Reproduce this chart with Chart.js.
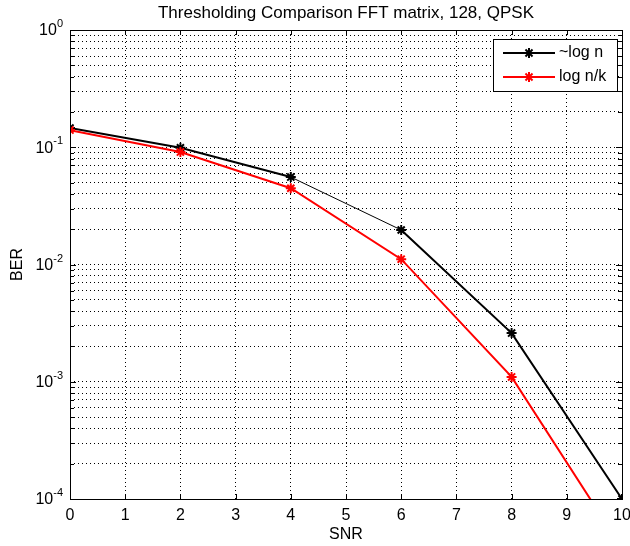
<!DOCTYPE html>
<html lang="en">
<head>
  <meta charset="UTF-8">
  <title>Thresholding Comparison FFT matrix, 128, QPSK</title>
  <style>
    html, body { margin: 0; padding: 0; background: #fff; }
    #wrap { width: 630px; height: 546px; }
  </style>
</head>
<body>
  <div id="wrap"><canvas id="berChart" width="630" height="546"></canvas></div>

  <script src="https://cdn.jsdelivr.net/npm/chart.js"></script>
  <script>
    // values
    const snr = [0, 2, 4, 6, 8, 10];
    const berLogN = [0.146, 0.099, 0.0557, 0.0197, 0.0026, 0.0001];
    const berLogNK = [0.140, 0.091, 0.0447, 0.0111, 0.0011, 0.000038];
    const seriesNames = ['~log n', 'log n/k'];

    // axes
    const xTicks = [0, 1, 2, 3, 4, 5, 6, 7, 8, 9, 10];
    const yDecades = [1e-4, 1e-3, 1e-2, 1e-1, 1];
    const yExponents = ['-4', '-3', '-2', '-1', '0'];

    const titleText = 'Thresholding Comparison FFT matrix, 128, QPSK';
    const xLabel = 'SNR';
    const yLabel = 'BER';

    const FONT = '"Liberation Sans Narrow", "Liberation Sans", Arial, sans-serif';

    function toPoints(xs, ys) {
      return xs.map((x, i) => ({ x: x, y: ys[i] }));
    }

    // log ticks 1..9 x 10^k, so every minor grid line shows up
    function logTicks() {
      const out = [];
      for (let d = 0; d < yDecades.length - 1; d++) {
        for (let m = 1; m <= 9; m++) out.push({ value: yDecades[d] * m });
      }
      out.push({ value: yDecades[yDecades.length - 1] });
      return out;
    }

    // box, inward ticks, texts and legend like the matlab figure
    const matlabFrame = {
      id: 'matlabFrame',
      afterDraw(chart) {
        const ctx = chart.ctx;
        const a = chart.chartArea;
        const xs = chart.scales.x;
        const ys = chart.scales.y;
        ctx.save();

        // ticks
        ctx.strokeStyle = '#000';
        ctx.lineWidth = 1;
        ctx.beginPath();
        xTicks.forEach(v => {
          const px = Math.round(xs.getPixelForValue(v)) + 0.5;
          ctx.moveTo(px, a.bottom); ctx.lineTo(px, a.bottom - 5);
          ctx.moveTo(px, a.top); ctx.lineTo(px, a.top + 5);
        });
        ys.ticks.forEach(t => {
          const py = Math.round(ys.getPixelForValue(t.value)) + 0.5;
          const len = yDecades.some(d => Math.abs(d - t.value) < d * 1e-6) ? 6 : 4;
          ctx.moveTo(a.left, py); ctx.lineTo(a.left + len, py);
          ctx.moveTo(a.right, py); ctx.lineTo(a.right - len, py);
        });
        ctx.stroke();

        // box
        ctx.lineWidth = 1;
        ctx.strokeRect(Math.round(a.left) + 0.5, Math.round(a.top) + 0.5,
          Math.round(a.right - a.left), Math.round(a.bottom - a.top));

        // y tick labels 10^k
        ctx.fillStyle = '#000';
        yDecades.forEach((d, i) => {
          const py = ys.getPixelForValue(d);
          ctx.font = '11px ' + FONT;
          const ew = ctx.measureText(yExponents[i]).width;
          const ex = a.left - 7 - ew;
          ctx.textAlign = 'left';
          ctx.textBaseline = 'alphabetic';
          ctx.fillText(yExponents[i], ex, py - 3);
          ctx.font = '16px ' + FONT;
          ctx.textAlign = 'right';
          ctx.textBaseline = 'middle';
          ctx.fillText('10', ex, py + 1);
        });

        // title and axis labels
        ctx.font = '17px ' + FONT;
        ctx.textAlign = 'center';
        ctx.textBaseline = 'middle';
        ctx.fillText(titleText, (a.left + a.right) / 2, 13);
        ctx.font = '16px ' + FONT;
        ctx.fillText(xLabel, (a.left + a.right) / 2, 535);
        ctx.save();
        ctx.translate(18, (a.top + a.bottom) / 2);
        ctx.rotate(-Math.PI / 2);
        ctx.fillText(yLabel, 0, 0);
        ctx.restore();

        // legend
        const lx = 493, ly = 39, lw = 124, lh = 52;
        ctx.fillStyle = '#fff';
        ctx.fillRect(lx, ly, lw, lh);
        ctx.strokeStyle = '#000';
        ctx.lineWidth = 1;
        ctx.strokeRect(lx + 0.5, ly + 0.5, lw, lh);
        chart.data.datasets.forEach((ds, i) => {
          const ry = 53 + i * 24;
          ctx.strokeStyle = ds.borderColor;
          ctx.lineWidth = 2;
          ctx.beginPath();
          ctx.moveTo(503, ry); ctx.lineTo(555, ry);
          ctx.stroke();
          Chart.helpers.drawPoint(ctx, {
            pointStyle: 'star', radius: 5, borderWidth: 2, rotation: 0
          }, 529, ry);
          ctx.fillStyle = '#000';
          ctx.font = '16px ' + FONT;
          ctx.textAlign = 'left';
          ctx.textBaseline = 'middle';
          ctx.fillText(ds.label, 559, ry);
        });

        ctx.restore();
      }
    };

    const ctx = document.getElementById('berChart').getContext('2d');
    new Chart(ctx, {
      type: 'line',
      data: {
        datasets: [
          {
            label: seriesNames[0],
            data: toPoints(snr, berLogN),
            borderColor: '#000',
            backgroundColor: '#000',
            borderWidth: 2,
            pointStyle: 'star',
            pointRadius: 5,
            pointBorderWidth: 2,
            order: 2,
            segment: {
              borderWidth: c => c.p0DataIndex === 2 ? 1 : 2
            }
          },
          {
            label: seriesNames[1],
            data: toPoints(snr, berLogNK),
            borderColor: '#ff0000',
            backgroundColor: '#ff0000',
            borderWidth: 2,
            pointStyle: 'star',
            pointRadius: 5,
            pointBorderWidth: 2,
            order: 1
          }
        ]
      },
      options: {
        responsive: false,
        animation: false,
        devicePixelRatio: 1,
        layout: { padding: { top: 30, right: 8, left: 0, bottom: 0 } },
        plugins: {
          legend: { display: false },
          title: { display: false },
          tooltip: { enabled: false }
        },
        scales: {
          x: {
            type: 'linear',
            min: 0,
            max: 10,
            afterBuildTicks: s => { s.ticks = xTicks.map(v => ({ value: v })); },
            afterFit: s => { s.height = 47; s.paddingLeft = 0; s.paddingRight = 0; },
            ticks: {
              color: '#000',
              padding: 7,
              maxRotation: 0,
              font: { family: FONT, size: 16 }
            },
            grid: { color: '#000', lineWidth: 1, drawTicks: false },
            border: { display: false, dash: [1, 3] }
          },
          y: {
            type: 'logarithmic',
            min: 1e-4,
            max: 1,
            afterBuildTicks: s => { s.ticks = logTicks(); },
            afterFit: s => { s.width = 70; s.paddingTop = 0; s.paddingBottom = 0; },
            ticks: { display: false },
            grid: { color: '#000', lineWidth: 1, drawTicks: false },
            border: { display: false, dash: [1, 3] }
          }
        }
      },
      plugins: [matlabFrame]
    });
  </script>
</body>
</html>
